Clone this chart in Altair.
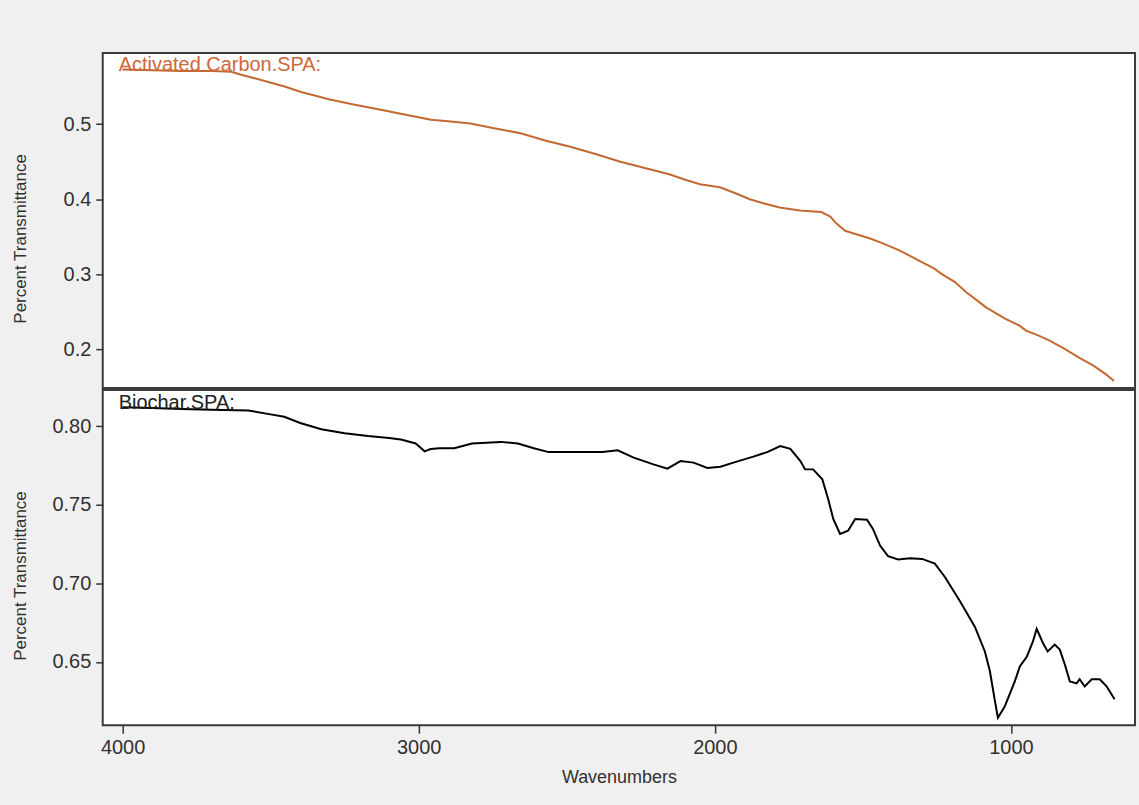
import altair as alt
import pandas as pd

# Activated Carbon spectrum (wavenumber, % transmittance)
ac_wn = [4000, 3900, 3800, 3700, 3633, 3600, 3532, 3450, 3397, 3300, 3228, 3150,
         3060, 2959, 2900, 2825, 2750, 2656, 2570, 2488, 2400, 2319, 2230, 2151,
         2100, 2050, 1983, 1930, 1882, 1830, 1781, 1713, 1640, 1610, 1590, 1560,
         1520, 1478, 1430, 1377, 1309, 1260, 1232, 1190, 1151, 1110, 1084, 1020,
         972, 949, 910, 871, 820, 770, 720, 680, 652]
ac_val = [0.573, 0.572, 0.571, 0.571, 0.570, 0.566, 0.559, 0.550, 0.543, 0.533, 0.527, 0.521,
          0.514, 0.506, 0.504, 0.501, 0.495, 0.488, 0.478, 0.470, 0.460, 0.450, 0.441, 0.433,
          0.426, 0.420, 0.416, 0.408, 0.400, 0.394, 0.389, 0.385, 0.383, 0.377, 0.368, 0.358,
          0.353, 0.348, 0.341, 0.332, 0.318, 0.308, 0.300, 0.290, 0.276, 0.264, 0.256, 0.241,
          0.232, 0.225, 0.219, 0.212, 0.201, 0.189, 0.178, 0.167, 0.158]

# Biochar spectrum
bc_wn = [4000, 3900, 3800, 3700, 3575, 3500, 3454, 3400, 3329, 3250, 3171, 3100,
         3060, 3010, 2980, 2960, 2930, 2880, 2820, 2723, 2665, 2611, 2561, 2379,
         2328, 2274, 2207, 2160, 2116, 2072, 2025, 1981, 1937, 1870, 1823, 1779,
         1745, 1711, 1695, 1668, 1637, 1617, 1600, 1577, 1550, 1526, 1486, 1466,
         1442, 1415, 1381, 1341, 1300, 1257, 1223, 1172, 1122, 1088, 1071, 1054,
         1044, 1021, 987, 970, 946, 926, 913, 892, 876, 852, 835, 818, 801, 778,
         768, 751, 727, 700, 677, 650]
bc_val = [0.812, 0.8115, 0.811, 0.8105, 0.810, 0.8075, 0.806, 0.802, 0.798, 0.7955, 0.7937, 0.7925,
          0.7915, 0.789, 0.784, 0.7855, 0.786, 0.786, 0.789, 0.790, 0.789, 0.786, 0.7835, 0.7835,
          0.7846, 0.780, 0.7757, 0.773, 0.7778, 0.7768, 0.7734, 0.7742, 0.7768, 0.7806, 0.7835, 0.7873,
          0.7856, 0.7778, 0.7725, 0.7725, 0.7662, 0.7535, 0.7409, 0.7314, 0.7335, 0.7409, 0.7405, 0.7346,
          0.724, 0.7173, 0.7152, 0.716, 0.7155, 0.7125, 0.704, 0.6885, 0.6724, 0.6566, 0.644, 0.625,
          0.6144, 0.6215, 0.6375, 0.647, 0.6534, 0.6628, 0.671, 0.662, 0.6566, 0.661, 0.6578, 0.6483,
          0.6375, 0.6363, 0.6389, 0.6344, 0.6389, 0.6389, 0.6344, 0.6262]

x_ticks = [4000, 3000, 2000, 1000]
top_ticks = [0.2, 0.3, 0.4, 0.5]
bot_ticks = [0.65, 0.70, 0.75, 0.80]

ac = pd.DataFrame({"wn": ac_wn, "val": ac_val})
bc = pd.DataFrame({"wn": bc_wn, "val": bc_val})

FONT = "Liberation Sans"
W, H = 1035, 336
xscale = alt.Scale(domain=[581, 4067], reverse=True, nice=False, zero=False)

yaxis_common = dict(
    title="Percent Transmittance", grid=False, domain=False, ticks=True,
    tickSize=7, tickColor="#333333", tickWidth=1.5, labelPadding=5,
    labelFontSize=20, labelColor="#303030", labelFont=FONT,
    titleFont=FONT, titleFontSize=17, titleFontWeight="normal", titleColor="#303030",
    titleX=-73, titleY=186,
)

top_line = alt.Chart(ac).mark_line(color="#c26a32", strokeWidth=2).encode(
    x=alt.X("wn:Q", scale=xscale, axis=None),
    y=alt.Y("val:Q", scale=alt.Scale(domain=[0.1485, 0.595], nice=False, zero=False),
            axis=alt.Axis(values=top_ticks, format=".1f", **yaxis_common)),
)
top_text = alt.Chart().mark_text(
    text="Activated Carbon.SPA:", align="left", baseline="top",
    font=FONT, fontSize=20, color="#d0663a", dy=2,
).encode(x=alt.datum(4013), y=alt.datum(0.595))
top = alt.layer(top_line, top_text).properties(width=W, height=H)

bot_line = alt.Chart(bc).mark_line(color="#000000", strokeWidth=2).encode(
    x=alt.X("wn:Q", scale=xscale,
            axis=alt.Axis(values=x_ticks, format="d", title="Wavenumbers", grid=False,
                          domain=False, tickSize=8, tickColor="#333333", tickWidth=1.5,
                          labelPadding=4, labelFontSize=20, labelColor="#303030",
                          labelFont=FONT, titleFont=FONT, titleFontSize=18,
                          titleFontWeight="normal", titleColor="#303030", titlePadding=11)),
    y=alt.Y("val:Q", scale=alt.Scale(domain=[0.6097, 0.823], nice=False, zero=False),
            axis=alt.Axis(values=bot_ticks, format=".2f", **yaxis_common)),
)
bot_text = alt.Chart().mark_text(
    text="Biochar.SPA:", align="left", baseline="top",
    font=FONT, fontSize=20, color="#202020", dy=3,
).encode(x=alt.datum(4013), y=alt.datum(0.823))
bot = alt.layer(bot_line, bot_text).properties(width=W, height=H)

chart = alt.vconcat(top, bot, spacing=0).properties(
    background="#f0f0f0",
    padding={"left": 11, "top": 51, "right": 3, "bottom": 18},
).configure_view(
    stroke="#3a3a3a", strokeWidth=2, fill="#ffffff"
)

chart.save("out.html", embed_options={"renderer": "svg", "actions": False})
